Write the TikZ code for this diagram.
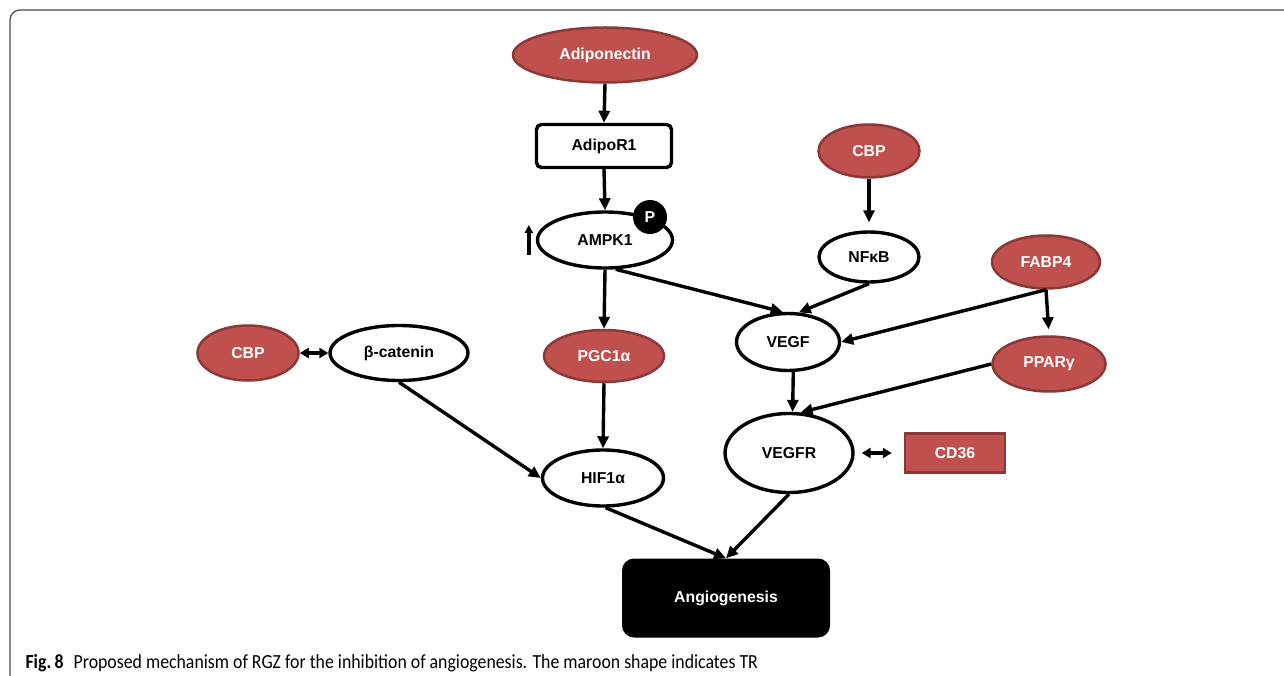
\documentclass[tikz,border=0pt]{standalone}
\usepackage{fontspec}
\setmainfont{Liberation Sans}
\newfontfamily\capfont[FakeStretch=0.89]{Carlito}
\usetikzlibrary{shapes.geometric,arrows.meta}
\definecolor{trfill}{HTML}{C0504D}
\definecolor{trline}{HTML}{8C3836}

\begin{document}
\begin{tikzpicture}[x=1pt,y=-1pt,font=\bfseries\fontsize{15.8}{18}\selectfont,
 oval/.style 2 args={ellipse,draw,line width=\mylinewidth,inner sep=0pt,
 minimum width=#1,minimum height=#2},
 trov/.style 2 args={oval={#1}{#2},fill=trfill,draw=trline,line width=2.5pt,text=white},
 box/.style={draw,line width=\mylinewidth,rounded corners=5pt,minimum width=135pt,minimum height=43pt},
 arr/.style={line width=\mylinewidth,-{Triangle[length=12pt,width=11pt]}},
 dbl/.style={line width=\mylinewidth,{Triangle[length=9pt,width=10pt]}-{Triangle[length=9pt,width=10pt]}},
 ]
 \def\mylinewidth{3.4pt}
 \useasboundingbox (0,0) rectangle (1284,676);
 \draw[line width=1.3pt,black!70,rounded corners=10pt] (1284,10) -- (10,10) -- (10,676);
 % left branch
 \node[trov={184}{55}] (adipo) at (605,55) {Adiponectin};
 \node[box] (adipor) at (604,146) {AdipoR1};
 \node[oval={135}{56}] (ampk) at (605,240) {AMPK1};
 \node[circle,fill,text=white,minimum size=34pt,inner sep=0pt] (p) at (650,217) {P};
 \node[trov={120}{52}] (pgc) at (604,356) {PGC1α};
 \node[oval={121}{56}] (hif) at (603,478) {HIF1α};
 \node[trov={101}{55}] (cbpa) at (248,353) {CBP};
 \node[oval={138}{55}] (bcat) at (399,353) {β-catenin};
 % right branch
 \node[trov={101}{53}] (cbpb) at (869,151) {CBP};
 \node[oval={100}{50}] (nfkb) at (869,257) {NFκB};
 \node[oval={103}{57}] (vegf) at (788,342) {VEGF};
 \node[trov={108}{53}] (fabp) at (1046,262) {FABP4};
 \node[trov={113}{55}] (ppar) at (1049,364) {PPARγ};
 \node[oval={128}{79}] (vegfr) at (789,453) {VEGFR};
 \node[fill=trfill,draw=trline,line width=2.5pt,text=white,minimum width=100pt,
 minimum height=39pt] (cd) at (955,453) {CD36};
 \node[fill,rounded corners=12pt,text=white,minimum width=208pt,minimum height=79pt]
 (angio) at (726,598) {Angiogenesis};
 \foreach \a/\b in {adipo.south/adipor.north,adipor.south/ampk.north,ampk.south/pgc.north,
 pgc.south/hif.north,bcat.south/hif.west,hif.-85/angio.north,ampk.-70/vegf.100,
 nfkb.south/vegf.70,fabp.south/vegf.east,vegf.-80/vegfr.85,ppar.west/vegfr.74,
 vegfr.south/angio.north}
 {\draw[arr] (\a) -- (\b);}
 \draw[arr,shorten >=8pt] (cbpb) -- (nfkb);
 \draw[arr,shorten >=6pt] (fabp.south) -- (ppar.north);
 \draw[dbl] (cbpa) -- (bcat);
 \draw[dbl,shorten <=7pt,shorten >=12pt] (vegfr) -- (cd);
 \draw[arr,-{Triangle[length=8pt,width=8pt]}] ([xshift=-7pt]ampk.west) ++(0,15) -- ++(0,-30);
 \node[anchor=base west,font=\capfont\fontsize{20}{22}\selectfont] (cap) at (22,668)
 {\textbf{Fig.\,8}\hspace{0.5em}Proposed mechanism of RGZ for the inhibition of angiogenesis. The maroon shape indicates TR};
\end{tikzpicture}
\end{document}
